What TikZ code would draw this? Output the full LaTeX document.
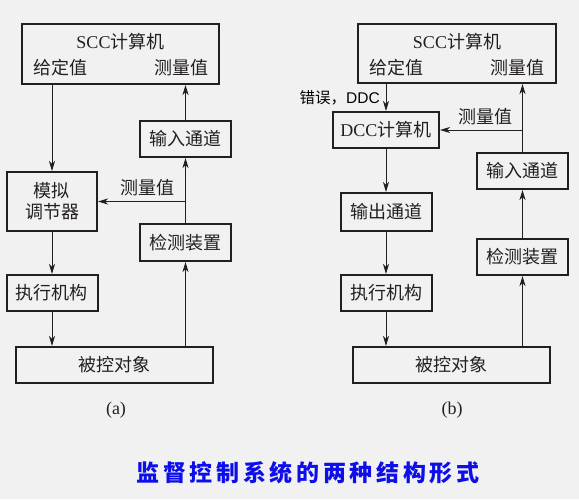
\documentclass[tikz,border=0pt]{standalone}
\usepackage{fontspec}
\setmainfont{Liberation Serif}
\newfontfamily\cjk{Noto Sans CJK SC}
\newfontfamily\lsans{Liberation Sans}
\newfontfamily\titlefont[LetterSpace=16]{Noto Sans CJK SC}
\newcommand{\zhtxt}[1]{{\cjk #1}}
\usetikzlibrary{arrows.meta}
\definecolor{bgc}{HTML}{F1F1F1}
\definecolor{ink}{HTML}{231F20}
\definecolor{titleblue}{RGB}{14,14,235}
\tikzset{
  blk/.style={draw=ink, line width=2pt, inner sep=0pt, text=ink,
    font=\fontsize{18}{21}\selectfont, align=center},
  arr/.style={draw=ink, line width=0.9pt,
    -{Stealth[length=10pt, width=6pt, inset=2.8pt]}},
  lbl/.style={text=ink, inner sep=0pt, font=\fontsize{18}{21}\selectfont}
}
\begin{document}
\begin{tikzpicture}[x=1pt, y=-1pt]
\fill[bgc] (0,0) rectangle (579,499);
\useasboundingbox (0,0) rectangle (579,499);
% ---------- (a) ----------
\node[blk, minimum width=197pt, minimum height=60pt] (sccA) at (120.5,54) {};
\node[lbl] (sccAt) at (120.5,42) {SCC\zhtxt{计算机}};
\node[lbl] (sccAg) at (60,68) {\zhtxt{给定值}};
\node[lbl] (sccAm) at (181,68) {\zhtxt{测量值}};
\node[blk, minimum width=90pt, minimum height=59pt] (moni) at (52,201.5) {\zhtxt{模拟}\\\zhtxt{调节器}};
\node[blk, minimum width=91pt, minimum height=36pt] (inA) at (185.5,139) {\zhtxt{输入通道}};
\node[blk, minimum width=91pt, minimum height=37pt] (detA) at (185.5,242.5) {\zhtxt{检测装置}};
\node[blk, minimum width=91pt, minimum height=36pt] (actA) at (52,293) {\zhtxt{执行机构}};
\node[blk, minimum width=197pt, minimum height=36pt] (objA) at (114.5,365) {\zhtxt{被控对象}};
\node[lbl] (mA) at (147,188) {\zhtxt{测量值}};
\node[lbl] (capA) at (116,410) {(a)};
\draw[arr] (moni.north |- sccA.south) -- (moni.north);
\draw[arr] (inA.north) -- (inA.north |- sccA.south);
\draw[arr] (detA.north) -- (inA.south);
\draw[arr] (inA.south |- moni.east) -- (moni.east);
\draw[arr] (actA.north |- moni.south) -- (actA.north);
\draw[arr] (actA.south) -- (actA.south |- objA.north);
\draw[arr] (detA.south |- objA.north) -- (detA.south);
% ---------- (b) ----------
\node[blk, minimum width=198pt, minimum height=59pt] (sccB) at (457,53.5) {};
\node[lbl] (sccBt) at (457,42) {SCC\zhtxt{计算机}};
\node[lbl] (sccBg) at (396,68) {\zhtxt{给定值}};
\node[lbl] (sccBm) at (517,68) {\zhtxt{测量值}};
\node[blk, minimum width=106pt, minimum height=36pt] (dcc) at (386,130) {DCC\zhtxt{计算机}};
\node[blk, minimum width=91pt, minimum height=36pt] (inB) at (522.5,171) {\zhtxt{输入通道}};
\node[blk, minimum width=91pt, minimum height=38pt] (outB) at (386,212) {\zhtxt{输出通道}};
\node[blk, minimum width=91pt, minimum height=36pt] (actB) at (386,293) {\zhtxt{执行机构}};
\node[blk, minimum width=197pt, minimum height=36pt] (objB) at (451.5,365) {\zhtxt{被控对象}};
\node[blk, minimum width=91pt, minimum height=36pt] (detB) at (522.5,257) {\zhtxt{检测装置}};
\node[lbl] (mB) at (485,117) {\zhtxt{测量值}};
\node[lbl] (capB) at (452,410) {(b)};
\node[text=black, inner sep=0pt, anchor=east, font=\fontsize{15.5}{18}\selectfont] (err) at (380,98) {\zhtxt{错误，}\lsans DDC};
\draw[arr] (dcc.north |- sccB.south) -- (dcc.north);
\draw[arr] (dcc.south) -- (outB.north);
\draw[arr] (outB.south) -- (actB.north);
\draw[arr] (actB.south) -- (actB.south |- objB.north);
\draw[arr] (detB.south |- objB.north) -- (detB.south);
\draw[arr] (detB.north) -- (inB.south);
\draw[arr] (inB.north) -- (inB.north |- sccB.south);
\draw[arr] (inB.north |- dcc.east) -- (dcc.east);
% ---------- title ----------
\node[text=titleblue, inner sep=0pt, font=\titlefont\bfseries\fontsize{23}{26}\selectfont] (title) at (308,473) {监督控制系统的两种结构形式};
\end{tikzpicture}
\end{document}
